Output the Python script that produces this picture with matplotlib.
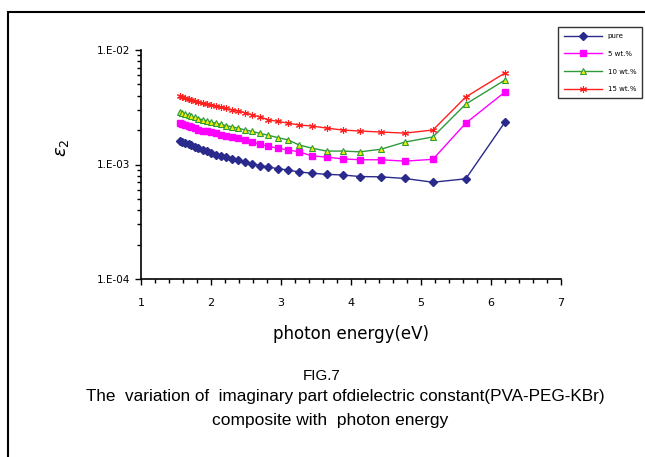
import matplotlib.pyplot as plt
from matplotlib.patches import Rectangle
from matplotlib.ticker import LogLocator, MultipleLocator, FixedFormatter, FixedLocator

# photon energy (eV)
energy = [1.55, 1.59, 1.63, 1.68, 1.72, 1.77, 1.82, 1.88, 1.94, 2.00,
          2.07, 2.14, 2.21, 2.30, 2.38, 2.48, 2.58, 2.70, 2.82, 2.95,
          3.10, 3.26, 3.44, 3.65, 3.88, 4.13, 4.43, 4.77, 5.17, 5.64, 6.20]

# imaginary part of dielectric constant (x 1e-3)
pure = [1.60, 1.57, 1.54, 1.50, 1.47, 1.43, 1.39, 1.35, 1.30, 1.26,
        1.22, 1.19, 1.16, 1.12, 1.09, 1.05, 1.02, 0.98, 0.95, 0.92,
        0.895, 0.86, 0.84, 0.82, 0.81, 0.785, 0.78, 0.755, 0.70, 0.75, 2.35]
wt5 = [2.32, 2.27, 2.22, 2.17, 2.12, 2.07, 2.02, 1.98, 1.95, 1.92,
       1.87, 1.82, 1.78, 1.73, 1.69, 1.64, 1.58, 1.50, 1.44, 1.39,
       1.34, 1.29, 1.19, 1.16, 1.12, 1.10, 1.10, 1.07, 1.11, 2.30, 4.30]
wt10 = [2.88, 2.82, 2.76, 2.70, 2.64, 2.58, 2.52, 2.46, 2.40, 2.35,
        2.29, 2.24, 2.19, 2.13, 2.08, 2.01, 1.95, 1.87, 1.80, 1.72,
        1.64, 1.48, 1.39, 1.31, 1.31, 1.29, 1.36, 1.57, 1.74, 3.37, 5.47]
wt15 = [3.95, 3.87, 3.79, 3.71, 3.63, 3.55, 3.48, 3.42, 3.36, 3.31,
        3.24, 3.16, 3.09, 3.00, 2.93, 2.84, 2.72, 2.60, 2.46, 2.38,
        2.30, 2.21, 2.17, 2.08, 2.00, 1.96, 1.92, 1.88, 2.00, 3.89, 6.30]

labels = ["pure", "5 wt.%", "10 wt.%", "15 wt.%"]
ytick_vals = [1e-4, 1e-3, 1e-2]
ytick_text = ["1.E-04", "1.E-03", "1.E-02"]

W, H = 645, 457
fig = plt.figure(figsize=(W / 100, H / 100), dpi=100)
ax = fig.add_axes([141 / W, 1 - 279 / H, 420 / W, 229 / H])

def sc(v):
    return [x * 1e-3 for x in v]

ax.plot(energy, sc(pure), color="#2a2a8c", marker="D", ms=4.5, lw=1, label=labels[0])
ax.plot(energy, sc(wt5), color="#ff00ff", marker="s", ms=5, lw=1, label=labels[1])
ax.plot(energy, sc(wt10), color="#2e9a3a", marker="^", ms=5, mfc="#f0f000",
        mec="#2e9a3a", mew=0.8, lw=1, label=labels[2])
ax.plot(energy, sc(wt15), color="#ff2020", marker=(6, 2, 0), ms=5, mew=0.8,
        lw=1, label=labels[3])

ax.set_yscale("log")
ax.set_ylim(1e-4, 1e-2)
ax.set_xlim(1, 7)
ax.yaxis.set_major_locator(FixedLocator(ytick_vals))
ax.yaxis.set_major_formatter(FixedFormatter(ytick_text))
ax.yaxis.set_minor_locator(LogLocator(base=10, subs=range(2, 10)))
ax.yaxis.set_minor_formatter(plt.NullFormatter())
ax.xaxis.set_major_locator(MultipleLocator(1))
ax.xaxis.set_minor_locator(MultipleLocator(0.2))

for s in ["top", "right"]:
    ax.spines[s].set_visible(False)
for s in ["left", "bottom"]:
    ax.spines[s].set_linewidth(1.2)
ax.tick_params(which="major", length=4, width=1, labelsize=7.5)
ax.tick_params(axis="x", which="major", pad=10, labelsize=8)
ax.tick_params(axis="y", which="major", pad=4)
ax.tick_params(which="minor", length=3, width=1)

ax.set_xlabel("photon energy(eV)", fontsize=12, labelpad=12)
fig.text(62 / W, 1 - 148 / H, r"$\epsilon_2$", fontsize=13, rotation=90,
         ha="center", va="center")

leg = fig.legend(loc="upper left", bbox_to_anchor=(555 / W, 1 - 24 / H),
                 fontsize=5, frameon=True, fancybox=False, edgecolor="black",
                 handlelength=5.5, borderpad=0.8, labelspacing=1.7)
leg.get_frame().set_linewidth(1)

cap = dict(ha="center", va="center", family=["Liberation Sans", "DejaVu Sans"])
fig.text(322 / W, 1 - 376 / H, "FIG.7", fontsize=11, **cap)
fig.text(345 / W, 1 - 397 / H,
         "The  variation of  imaginary part ofdielectric constant(PVA-PEG-KBr)",
         fontsize=12.3, **cap)
fig.text(330 / W, 1 - 420 / H, "composite with  photon energy", fontsize=12.5, **cap)

# outer frame
fig.patches.append(Rectangle((8 / W, -0.1), 1.2, 1 - 12 / H + 0.1,
                             transform=fig.transFigure, fill=False,
                             edgecolor="black", lw=1.5))

fig.savefig("out.png", dpi=100)
